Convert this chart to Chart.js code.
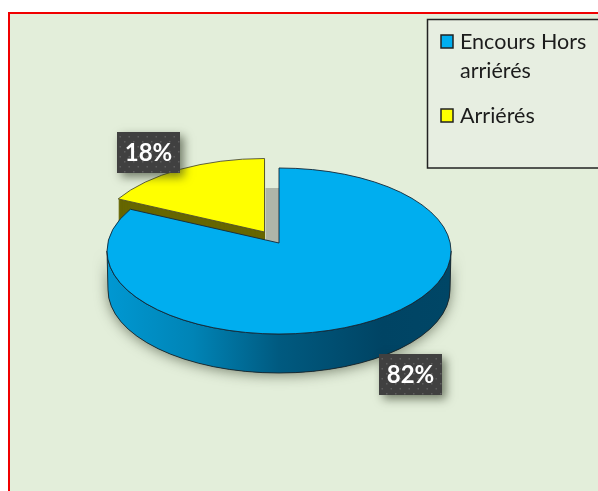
<!DOCTYPE html>
<html><head><meta charset="utf-8">
<style>html,body{margin:0;padding:0;background:#fff}canvas{display:block}</style>
<script src="https://cdn.jsdelivr.net/npm/chart.js@4"></script>
</head><body><canvas id="c" width="598" height="491"></canvas>
<script>
const categories = ["Encours Hors arriérés", "Arriérés"];
const values = [82, 18];
const sliceColors = ["#00AEEF", "#FFFF00"];
const sideColors = [null, "#666600"];
const explode = [0, 27];

const G = {cx:279, cy:251, rx:172, ry:83, apexLift:8, depth:39};
const labelBoxes = [{x:379,y:354,w:63,h:41},{x:117,y:132,w:63,h:41}];

function pt(a, g){ // ray from the perspective apex, at chart angle a, to the rim
  const dx=Math.cos(a), dy=Math.sin(a);
  const A=dx*dx+dy*dy, B=2*dy*(-g.lift)/g.ry, C=(g.lift/g.ry)*(g.lift/g.ry)-1;
  const t=(-B+Math.sqrt(B*B-4*A*C))/(2*A);
  const y=-g.lift/g.ry+t*dy, x=t*dx;
  return Math.atan2(y,x);
}
function geom(el,i){
  const mid=(el.startAngle+el.endAngle)/2, off=el.options.offset||0, f=off/G.rx;
  const ox=f*G.rx*Math.cos(mid), oy=f*G.ry*Math.sin(mid);
  const shrink=off?1:0;
  return {cx:G.cx+ox, cy:G.cy+oy, rx:G.rx-2.5*shrink, ry:G.ry-1.5*shrink, lift:G.apexLift};
}
function wedge(ctx,el,g,dy){
  const p0=pt(el.startAngle,g), p1=pt(el.endAngle,g);
  ctx.beginPath();
  ctx.moveTo(g.cx,g.cy-g.lift+dy);
  ctx.ellipse(g.cx,g.cy+dy,g.rx,g.ry,0,p0,p1,false);
  ctx.closePath();
}
function wrap(ctx,text,max){
  const out=[];let line="";
  text.split(" ").forEach(w=>{const n=line?line+" "+w:w;
    if(ctx.measureText(n).width>max&&line){out.push(line);line=w;}else line=n;});
  out.push(line);return out;
}
const pie3d={
  id:"pie3d",
  beforeDraw(chart){
    const c=chart.ctx;
    c.save();
    c.fillStyle="#fff";c.fillRect(0,0,598,491);
    c.fillStyle="#E3EEDA";c.fillRect(9,13,589,478);
    c.fillStyle="#F00000";c.fillRect(8,12,590,2);c.fillRect(8,12,2,479);
    c.restore();
  },
  beforeDatasetDraw(chart,args){
    const c=chart.ctx, els=chart.getDatasetMeta(args.index).data;
    c.save();
    const big=els[0], small=els[1];
    const gb=geom(big,0), gs=geom(small,1);
    // soft shadow under the drum
    const side=()=>{c.beginPath();c.ellipse(gb.cx,gb.cy,gb.rx,gb.ry,0,0,Math.PI,false);
      c.ellipse(gb.cx,gb.cy+G.depth,gb.rx-1,gb.ry,0,Math.PI,0,true);c.closePath();};
    c.save();c.shadowColor="rgba(50,60,40,.6)";c.shadowBlur=13;c.shadowOffsetY=2;c.fillStyle="#333";side();c.fill();c.restore();
    // shadow seen through the gap
    c.fillStyle="#AEB6A9";c.fillRect(gs.cx+1,188,G.cx-gs.cx-1,56);
    // exploded slice
    c.fillStyle=sideColors[1];
    for(let d=G.depth;d>0;d--){wedge(c,small,gs,d);c.fill();}
    wedge(c,small,gs,0);c.fillStyle=small.options.backgroundColor;c.fill();
    c.strokeStyle="rgba(70,70,50,.85)";c.lineWidth=1;c.stroke();
    // drum side
    const gr=c.createLinearGradient(gb.cx-gb.rx,0,gb.cx+gb.rx,0);
    gr.addColorStop(0,"#0098D2");gr.addColorStop(.25,"#0084B6");gr.addColorStop(.5,"#005A80");gr.addColorStop(.8,"#004464");gr.addColorStop(1,"#004666");
    side();c.fillStyle=gr;c.fill();c.strokeStyle="rgba(25,35,40,.85)";c.stroke();
    // main slice
    wedge(c,big,gb,0);c.fillStyle=big.options.backgroundColor;c.fill();
    c.strokeStyle="rgba(20,40,55,.9)";c.stroke();
    c.restore();
    return false;
  },
  afterDraw(chart){
    const c=chart.ctx;
    c.save();
    // value labels
    values.forEach((v,i)=>{
      const b=labelBoxes[i];
      c.save();c.shadowColor="rgba(40,50,30,.6)";c.shadowBlur=9;c.shadowOffsetX=4;c.shadowOffsetY=4;
      c.fillStyle="#404040";c.fillRect(b.x,b.y,b.w,b.h);c.restore();
      c.fillStyle="#5E5E5E";
      for(let yy=4,r=0;yy<b.h;yy+=5,r++)for(let xx=(r%2?7:2.5);xx<b.w;xx+=9)c.fillRect(b.x+xx,b.y+yy,1.5,1.5);
      c.fillStyle="#fff";c.font="bold 24px Lato";c.textAlign="center";c.textBaseline="alphabetic";
      c.fillText(v+"%",b.x+b.w/2,b.y+b.h/2+8.5);
    });
    // legend
    c.fillStyle="#E7EEE1";c.fillRect(427,19,175,149);
    c.strokeStyle="#222";c.lineWidth=1.5;c.strokeRect(427.5,19.5,175,148.5);
    c.font="21.5px Lato";c.textAlign="left";c.textBaseline="alphabetic";
    let y=49;
    categories.forEach((t,i)=>{
      c.fillStyle=sliceColors[i];c.fillRect(441,y-14,12,13);
      c.strokeStyle="#222";c.lineWidth=1.5;c.strokeRect(441,y-14,12,13);
      c.fillStyle="#1c1c1c";
      wrap(c,t,130).forEach((l,k)=>{c.fillText(l,460,y);y+=29;});
      y+=16;
    });
    c.restore();
  }
};
new Chart(document.getElementById("c"),{
  type:"pie",
  data:{labels:categories,datasets:[{data:values,backgroundColor:sliceColors,offset:explode,borderWidth:0}]},
  options:{responsive:false,animation:false,rotation:0,
    plugins:{legend:{display:false},tooltip:{enabled:false}}},
  plugins:[pie3d]
});
</script></body></html>
